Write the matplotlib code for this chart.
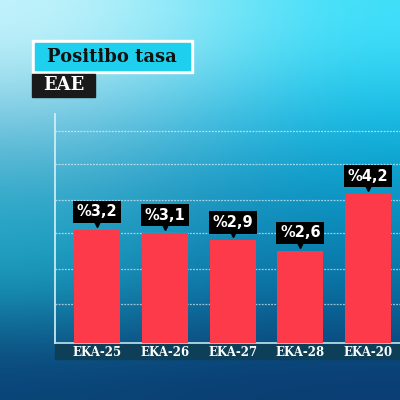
import matplotlib
matplotlib.use('Agg')
import matplotlib.pyplot as plt
import matplotlib.transforms as mtransforms
from matplotlib.colors import to_rgb
from matplotlib.patches import Rectangle
import numpy as np

# data
months = ['EKA-25', 'EKA-26', 'EKA-27', 'EKA-28', 'EKA-20']
rates = [3.2, 3.1, 2.9, 2.6, 4.2]
rate_labels = ['%3,2', '%3,1', '%2,9', '%2,6', '%4,2']
grid_levels = [1.1, 2.1, 3.1, 4.05, 5.05, 6.0]

fig = plt.figure(figsize=(4, 4), dpi=100)

# background gradient
bg_rows = [
    ['#c4f4fc', '#88e8f8', '#40e0fa'],
    ['#7cc8e0', '#48bde0', '#12b8e2'],
    ['#2ea6c8', '#1a92bc', '#0a92c2'],
    ['#18a0c0', '#1080b0', '#0a78a8'],
    ['#0a4276', '#0a3e72', '#0a3c72'],
]
bg = np.array([[to_rgb(c) for c in row] for row in bg_rows])
bg_ax = fig.add_axes([0, 0, 1, 1], zorder=-2)
bg_ax.imshow(bg, aspect='auto', interpolation='bicubic', extent=[0, 1, 0, 1])
bg_ax.set_axis_off()

# label band under the axis
fig.patches.append(Rectangle((55 / 400, 41 / 400), 345 / 400, 16 / 400,
                             transform=fig.transFigure, color='#0e3f58', zorder=-1))

ax = fig.add_axes([55 / 400, 57 / 400, 345 / 400, 229 / 400], zorder=0)
ax.patch.set_alpha(0)
x = np.arange(len(months))
ax.bar(x, rates, width=0.68, color='#fd3a4a', zorder=3)
ax.set_xlim(-0.62, 4.47)
ax.set_ylim(0, 6.47)

for g in grid_levels:
    ax.axhline(g, color='white', lw=0.9, ls=(0, (1.5, 1)), alpha=0.6, zorder=1)

for s in ['top', 'right']:
    ax.spines[s].set_visible(False)
ax.spines['left'].set_color('#d8f2f8')
ax.spines['left'].set_linewidth(1.2)
ax.spines['bottom'].set_color('#bfe6f0')
ax.spines['bottom'].set_linewidth(1.2)
ax.set_yticks([])
ax.set_xticks(x)
ax.set_xticklabels(months, fontsize=8.5, fontweight='bold', color='white', family='DejaVu Serif')
ax.tick_params(axis='x', length=0, pad=2.5)

# value callouts
tri_tr = mtransforms.offset_copy(ax.transData, fig=fig, x=0, y=8, units='dots')
for xi, v, lab in zip(x, rates, rate_labels):
    ax.annotate(lab, xy=(xi, v), xytext=(0, 18), textcoords='offset pixels',
                ha='center', va='center', fontsize=10.5, fontweight='bold', color='white',
                bbox=dict(boxstyle='square,pad=0.25', fc='black', ec='none'), zorder=5)
    ax.plot(xi, v, marker='v', color='black', markersize=7, transform=tri_tr,
            zorder=4, clip_on=False)

# title boxes
fig.patches.append(Rectangle((32 / 400, 327 / 400), 161 / 400, 33 / 400,
                             transform=fig.transFigure, color='white', zorder=1))
fig.patches.append(Rectangle((35 / 400, 330 / 400), 155 / 400, 27 / 400,
                             transform=fig.transFigure, color='#1ed0ee', zorder=1))
fig.text(112 / 400, 343.5 / 400, 'Positibo tasa', ha='center', va='center',
         fontsize=13, fontweight='bold', color='#111111', family='DejaVu Serif')
fig.patches.append(Rectangle((32 / 400, 303 / 400), 63 / 400, 23 / 400,
                             transform=fig.transFigure, color='#1a1a1a', zorder=1))
fig.text(64 / 400, 314.5 / 400, 'EAE', ha='center', va='center',
         fontsize=13, fontweight='bold', color='white', family='DejaVu Serif')

plt.savefig('out.png', dpi=100)
